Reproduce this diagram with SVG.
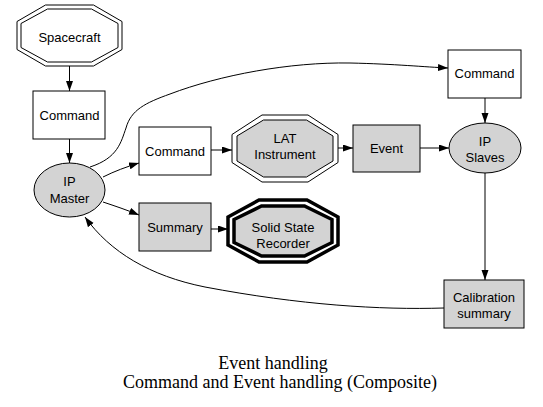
<svg xmlns="http://www.w3.org/2000/svg" width="543" height="407" viewBox="0 0 543 407">
<style>
.n{fill:#fff;stroke:#000;stroke-width:1}
.g{fill:#d3d3d3;stroke:#000;stroke-width:1}
.t{font-family:"Liberation Sans",Arial,sans-serif;font-size:13px;text-anchor:middle;fill:#000}
.e{fill:none;stroke:#000;stroke-width:1;marker-end:url(#ah)}
.title{font-family:"Liberation Serif","Times New Roman",serif;font-size:18px;text-anchor:middle;fill:#000}
</style>
<defs>
<marker id="ah" markerUnits="userSpaceOnUse" markerWidth="11" markerHeight="8" refX="10" refY="3.5" orient="auto">
<path d="M0,0 L10,3.5 L0,7 z" fill="#000"/>
</marker>
</defs>
<rect width="543" height="407" fill="#fff"/>
<g id="connectors">
<path class="e" d="M69.5,66 L69.5,91"/>
<path class="e" d="M69.5,139 L69.5,163"/>
<path class="e" d="M103,177 C115,171 126,167 139,163"/>
<path class="e" d="M103,202 C115,206 127,210 139,215"/>
<path class="e" d="M211,150 L232,150"/>
<path class="e" d="M338,148 L353,148"/>
<path class="e" d="M211,229 L228,229"/>
<path class="e" d="M420,148 L449,148"/>
<path class="e" d="M485,98 L485,123"/>
<path class="e" d="M485,173 L485,280"/>
<path class="e" d="M90,167 C118,158 121,142 126,128 C131,110 145,103 170,94 C220,75 290,62 350,63 C395,64 425,67 448,68"/>
<path class="e" d="M444,308 C380,310 300,305 205,287 C150,276 110,252 85,217"/>
</g>
<g id="spacecraft">
<polygon class="n" points="45.5,5 93.5,5 122,21.5 122,49.5 93.5,66 45.5,66 17,49.5 17,21.5"/>
<polygon class="n" points="47.5,9 91.5,9 118,23.5 118,47.5 91.5,62 47.5,62 21,47.5 21,23.5"/>
<text class="t" x="69.5" y="42">Spacecraft</text>
</g>
<g id="command1">
<rect class="n" x="33" y="91" width="72" height="48"/>
<text class="t" x="69.5" y="120">Command</text>
</g>
<g id="ipmaster">
<ellipse class="g" cx="69.5" cy="190" rx="35.5" ry="27"/>
<text class="t" x="69.5" y="186">IP</text>
<text class="t" x="69.5" y="203">Master</text>
</g>
<g id="command2">
<rect class="n" x="139" y="127" width="72" height="48"/>
<text class="t" x="175" y="156">Command</text>
</g>
<g id="summary">
<rect class="g" x="139" y="203" width="72" height="48"/>
<text class="t" x="175" y="232">Summary</text>
</g>
<g id="lat">
<polygon class="n" points="262,115 308,115 338,134.5 338,162.5 308,182 262,182 232,162.5 232,134.5"/>
<polygon class="g" points="263.5,120 306.5,120 333,136 333,161 306.5,177 263.5,177 237,161 237,136"/>
<text class="t" x="285" y="143">LAT</text>
<text class="t" x="285" y="159">Instrument</text>
</g>
<g id="ssr">
<polygon fill="#fff" stroke="#000" stroke-width="3.5" points="259,200 307,200 338,217 338,245 307,262 259,262 228,245 228,217"/>
<polygon fill="#d3d3d3" stroke="#000" stroke-width="3.5" points="261.5,206 304.5,206 332,219.5 332,242.5 304.5,256 261.5,256 234,242.5 234,219.5"/>
<text class="t" x="283" y="232">Solid State</text>
<text class="t" x="283" y="248">Recorder</text>
</g>
<g id="event">
<rect class="g" x="353" y="125" width="67" height="47"/>
<text class="t" x="386.5" y="153">Event</text>
</g>
<g id="command3">
<rect class="n" x="448" y="50" width="73" height="48"/>
<text class="t" x="484.5" y="78">Command</text>
</g>
<g id="ipslaves">
<ellipse class="g" cx="485" cy="148" rx="36" ry="25"/>
<text class="t" x="485" y="146">IP</text>
<text class="t" x="485" y="162">Slaves</text>
</g>
<g id="calibration">
<rect class="g" x="444" y="280" width="80" height="48"/>
<text class="t" x="484" y="302">Calibration</text>
<text class="t" x="484" y="318">summary</text>
</g>
<text class="title" x="273" y="369">Event handling</text>
<text class="title" x="280" y="388">Command and Event handling (Composite)</text>
</svg>
